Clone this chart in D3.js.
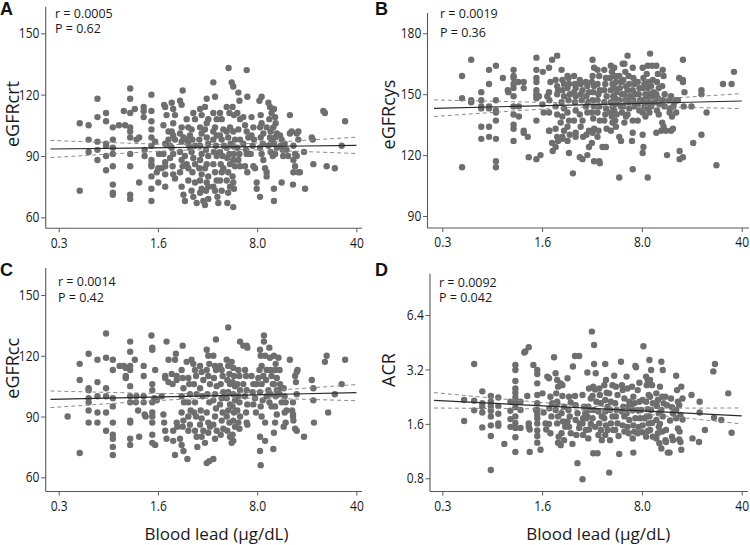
<!DOCTYPE html>
<html>
<head>
<meta charset="utf-8">
<script src="https://cdn.jsdelivr.net/npm/d3@7"></script>
<style>
    body { margin: 0; background: #fff; }
    svg { display: block; }
    .tick text { font-family: "Open Sans", sans-serif; font-size: 14.5px; fill: #1a1a1a; }
    .stat { font-family: "Open Sans", sans-serif; font-size: 12.5px; fill: #1a1a1a; }
    .ytitle { font-family: "Open Sans", sans-serif; font-size: 18px; fill: #1a1a1a; }
    .xtitle { font-family: "Open Sans", sans-serif; font-size: 17px; fill: #1a1a1a; }
    .letter { font-family: "Liberation Sans", Arial, sans-serif; font-size: 18px; font-weight: bold; fill: #111; }
</style>
</head>
<body>
<script>
"use strict";
(function(){

    // shared x axis (blood lead, log scale)
    const leadTicks = [0.32, 1.6, 8, 40]
    const leadTickLabels = ["0.3", "1.6", "8.0", "40"]

    const crtTicks = [60, 90, 120, 150]
    const cysTicks = [90, 120, 150, 180]
    const ccTicks = [60, 90, 120, 150]
    const acrTicks = [0.8, 1.6, 3.2, 6.4]

    // [blood lead, outcome]
    const pointsCrt = [
        [0.45,106],[0.45,73],[0.52,105],[0.52,98],[0.52,92],[0.6,118],[0.6,109],[0.6,97],[0.6,93],[0.6,88],
        [0.69,111],[0.69,107],[0.69,96],[0.69,95],[0.69,90],[0.69,83],
        [0.77,104],[0.77,98],[0.77,94],[0.77,91],[0.77,85],[0.77,76],[0.77,72],[0.77,71],
        [0.85,105],[0.92,112],[0.94,105],
        [1.02,123],[1.02,118],[1.02,111],[1.02,104],[1.02,102],[1.02,99],[1.02,91],[1.02,85],[1.02,71],[1.02,69],
        [1.1,113],[1.13,98],[1.18,99],[1.18,77],[1.27,114],[1.27,112],[1.27,109],[1.29,93],[1.29,90],
        [1.44,120],[1.44,112],[1.44,107],[1.44,103],[1.44,99],[1.44,95],[1.44,88],[1.44,86],[1.44,85],[1.44,80],[1.44,74],[1.44,68],
        [1.53,97],[1.57,82],[1.61,84],[1.61,77],[1.63,91],[1.7,84],[1.75,91],
        [1.77,115],[1.8,114],[1.75,105],[1.84,110],[1.9,102],[1.9,98],[1.8,96],[1.95,95],[1.95,89],[1.8,87],[1.8,85],[1.8,81],[1.8,75],
        [2.0,116],[2.05,113],[2.11,110],[2.05,106],[2.0,102],[2.05,100],[2.11,98],[2.0,94],[2.05,91],[2.03,85],[2.05,81],[2.11,79],
        [2.29,117],[2.35,115],[2.39,122],[2.35,104],[2.29,101],[2.42,99],[2.35,97],[2.29,92],[2.35,88],[2.39,85],[2.29,82],[2.35,75],[2.42,71],
        [2.55,108],[2.62,104],[2.69,100],[2.55,98],[2.62,96],[2.69,94],[2.48,90],[2.55,86],[2.62,84],[2.62,78],[2.48,68],
        [2.84,111],[2.92,108],[2.76,103],[2.8,98],[2.92,95],[2.76,92],[2.84,89],[2.92,86],[2.8,82],[2.92,77],[2.76,73],[2.84,70],[3.0,67],
        [3.17,113],[3.25,110],[3.17,104],[3.25,101],[3.13,98],[3.17,95],[3.25,91],[3.17,88],[3.13,84],[3.25,81],[3.17,78],[3.25,74],[3.17,72],[3.34,68],
        [3.53,118],[3.43,114],[3.62,108],[3.53,106],[3.43,103],[3.53,99],[3.62,96],[3.49,93],[3.62,90],[3.53,86],[3.43,84],[3.62,80],[3.53,77],[3.62,75],[3.49,73],[3.62,69],[3.43,66],
        [3.93,126],[4.04,119],[3.93,111],[4.15,108],[4.04,104],[3.93,102],[4.15,100],[3.93,98],[4.1,95],[3.97,92],[4.15,90],[3.93,86],[4.04,82],[4.15,78],[3.93,75],[4.04,73],[4.2,70],
        [4.38,111],[4.5,108],[4.62,103],[4.38,100],[4.5,98],[4.67,95],[4.38,92],[4.57,90],[4.43,86],[4.62,84],[4.5,82],[4.38,78],[4.5,73],[4.26,67],
        [5.03,133],[4.88,114],[5.1,111],[5.15,104],[4.88,102],[5.0,99],[5.2,96],[4.88,94],[5.1,91],[4.93,89],[5.15,86],[5.0,82],[4.88,78],[5.15,75],[5.0,72],[4.93,67],
        [5.29,126],[5.43,124],[5.37,114],[5.49,110],[5.43,102],[5.59,98],[5.37,95],[5.49,91],[5.43,88],[5.59,85],[5.37,80],[5.43,77],[5.49,74],[5.43,65],
        [5.9,121],[6.0,117],[5.8,111],[6.06,108],[5.9,103],[6.06,98],[5.8,94],[6.0,91],[5.9,88],[6.06,85],
        [6.75,132],[6.82,119],[6.39,109],[6.57,105],[6.75,102],[6.93,99],[6.39,96],[6.68,93],[6.75,91],[6.57,85],[6.82,82],
        [7.3,109],[7.52,104],[7.3,100],[7.6,98],[7.44,95],[7.2,91],[7.52,85],[7.73,84],[7.94,77],[7.94,74],[8.38,70],
        [8.3,117],[8.6,119],[8.47,110],[8.6,106],[8.38,104],[8.84,101],[8.47,99],[8.75,96],[8.38,94],[8.6,91],[8.84,88],[9.1,84],[9.33,82],[9.33,80],
        [9.6,116],[9.85,114],[10.1,111],[9.75,108],[9.33,104],[9.95,102],[9.85,99],[10.1,97],[9.6,95],[9.95,92],[10.3,90],
        [10.5,113],[10.7,109],[10.8,106],[10.4,104],[11.0,101],[10.7,99],[10.5,96],[11.0,94],[10.7,91],[10.5,74],[10.5,68],
        [11.6,100],[11.9,98],[11.7,95],[12.1,93],[12.2,90],[11.9,77],[12.5,96],[12.9,93],[13.2,90],[13.6,101],[13.6,110],[14.0,102],
        [14.4,95],[14.8,91],[14.4,88],[14.8,85],[14.4,82],[14.3,76],[15.2,101],[15.6,102],[15.6,98],[15.2,90],[15.6,82],[16.0,82],
        [17.1,92],[17.4,74],[19.4,99],[19.7,98],[19.9,86],[23.4,112],[24.0,111],[24.7,85],[28.2,84],[31.5,95],[33.3,107]
    ]

    const pointsCys = [
        [0.44,159],[0.44,148],[0.44,114],[0.51,167],[0.51,147],[0.51,146],
        [0.6,151],[0.6,147],[0.6,144],[0.6,143],[0.6,134],[0.6,128],
        [0.68,162],[0.68,155],[0.68,144],[0.68,143],[0.68,134],[0.68,129],
        [0.76,164],[0.76,147],[0.76,142],[0.76,141],[0.76,137],[0.76,128],[0.76,117],[0.76,114],
        [0.85,158],[0.92,152],[0.93,151],
        [1.01,162],[1.01,159],[1.01,158],[1.01,155],[1.01,153],[1.01,149],[1.01,144],[1.01,140],[1.01,135],[1.01,133],[1.01,127],
        [1.09,156],[1.1,144],[1.1,139],[1.19,156],[1.19,153],[1.19,132],[1.19,131],[1.27,129],[1.29,119],
        [1.46,168],[1.46,162],[1.46,158],[1.46,156],[1.46,152],[1.46,150],[1.46,149],[1.46,148],[1.46,137],[1.46,118],
        [1.52,149],[1.56,120],[1.62,161],[1.61,145],[1.64,141],[1.74,149],
        [1.79,163],[1.83,156],[1.79,151],[1.8,147],[1.79,141],[1.79,132],[1.8,132],[1.88,126],[1.9,122],
        [1.88,167],[2.04,169],[1.99,157],[2.04,154],[2.07,152],[2.04,150],[1.99,144],[2.04,140],[1.99,133],[2.04,129],[2.07,127],[1.99,124],
        [2.19,162],[2.22,157],[2.28,155],[2.22,152],[2.28,149],[2.19,146],[2.28,143],[2.22,139],[2.16,136],[2.28,132],[2.22,129],[2.22,128],
        [2.41,159],[2.45,158],[2.47,155],[2.41,153],[2.5,150],[2.45,147],[2.41,141],[2.47,137],[2.41,134],[2.5,130],[2.41,127],[2.47,121],
        [2.68,159],[2.72,155],[2.75,153],[2.68,151],[2.75,149],[2.72,146],[2.75,142],[2.68,137],[2.75,129],[2.63,111],[2.75,131],
        [2.94,157],[2.98,155],[3.07,152],[2.98,150],[3.03,147],[2.94,140],[3.07,137],[2.98,134],[3.1,129],[2.94,119],[3.07,118],
        [3.24,156],[3.32,154],[3.41,151],[3.27,149],[3.37,146],[3.24,144],[3.32,141],[3.41,132],[3.27,130],[3.41,124],[3.32,120],
        [3.61,167],[3.7,163],[3.61,159],[3.57,156],[3.7,154],[3.65,151],[3.61,147],[3.7,144],[3.57,141],[3.65,138],[3.7,133],[3.61,131],[3.57,126],[3.7,117],
        [3.91,162],[4.02,159],[3.91,155],[4.06,152],[3.97,150],[3.91,147],[4.02,144],[3.91,141],[4.06,137],[3.97,132],[3.91,129],[4.02,117],[4.06,116],
        [4.36,162],[4.48,158],[4.43,155],[4.36,152],[4.53,149],[4.36,146],[4.48,143],[4.43,140],[4.36,137],[4.53,133],[4.24,124],[4.48,124],
        [4.85,164],[4.93,161],[4.78,158],[4.98,155],[4.85,152],[5.04,149],[4.85,146],[4.98,144],[4.78,141],[4.93,139],[4.98,136],[4.85,132],
        [5.12,163],[5.2,159],[5.26,156],[5.15,153],[5.32,151],[5.2,148],[5.26,145],[5.12,142],[5.32,140],[5.2,137],[5.26,134],
        [5.55,159],[5.71,156],[5.61,153],[5.8,150],[5.55,147],[5.71,144],[5.8,141],[5.55,129],[5.71,127],[5.55,109],
        [6.03,165],[6.12,161],[5.93,157],[6.19,154],[6.03,150],[6.12,147],[5.93,144],[6.19,139],[6.03,136],[5.87,165],
        [6.35,169],[6.46,159],[6.53,155],[6.35,152],[6.6,149],[6.46,146],[6.53,143],[6.35,140],
        [6.9,163],[6.97,158],[7.08,155],[6.9,152],[7.2,150],[6.97,147],[7.08,144],[6.9,137],[6.82,127],[6.9,131],[6.9,113],
        [7.48,156],[7.68,153],[7.6,150],[7.77,147],[7.48,145],[7.68,142],[7.48,137],
        [8.1,163],[8.2,158],[8.33,155],[8.1,153],[8.47,150],[8.2,147],[8.33,144],[8.1,141],[8.47,139],[8.1,130],[8.2,124],[8.1,121],
        [8.79,164],[8.65,160],[8.93,156],[8.79,153],[9.03,150],[8.65,148],[8.93,146],[8.79,143],[9.03,141],[8.79,109],
        [9.13,170],[9.43,164],[9.54,157],[9.28,154],[9.64,151],[9.43,149],[9.8,146],[9.28,144],
        [10.1,164],[10.35,160],[10.2,156],[10.5,153],[10.1,150],[10.35,148],[10.6,145],[10.2,142],[10.5,140],[10.1,131],
        [11.2,162],[11.35,159],[11.1,154],[11.55,150],[11.2,147],[11.55,144],[11.1,136],[11.35,134],[10.95,132],
        [11.8,132],[12.0,120],[12.35,147],[12.5,141],[12.8,149],[12.6,143],[13.0,139],[13.2,133],[12.8,132],
        [13.8,147],[13.5,146],[13.3,144],[13.9,141],[14.3,147],[14.6,158],[14.7,122],[14.7,118],
        [15.5,167],[15.5,157],[15.5,156],[15.7,144],[15.9,151],[15.5,119],
        [17.8,144],[18.3,126],[20.9,152],[20.9,150],[20.9,130],[22.7,141],[29.6,155],[26.6,115],[34,155],[35.3,161]
    ]

    const pointsCc = [
        [0.37,90],[0.45,116],[0.45,108],[0.45,72],
        [0.52,121],[0.52,104],[0.52,103],[0.52,99],[0.52,97],[0.52,93],[0.52,87],
        [0.6,118],[0.6,107],[0.6,100],[0.6,92],[0.6,87],
        [0.69,131],[0.69,119],[0.69,104],[0.69,100],[0.69,92],[0.69,83],
        [0.77,118],[0.77,113],[0.77,99],[0.77,95],[0.77,87],[0.77,81],[0.77,79],[0.77,75],[0.77,71],
        [0.86,115],[0.92,115],[0.95,114],[0.95,110],[0.95,109],
        [1.02,127],[1.02,122],[1.02,115],[1.02,113],[1.02,105],[1.02,100],[1.02,97],[1.02,88],[1.02,87],[1.02,79],[1.02,76],
        [1.1,118],[1.13,100],[1.12,97],[1.16,93],[1.18,80],[1.27,115],[1.27,110],[1.27,100],[1.27,97],[1.29,91],[1.31,90],
        [1.44,130],[1.46,124],[1.46,123],[1.46,106],[1.46,103],[1.46,97],[1.46,92],[1.46,90],[1.46,87],[1.46,81],[1.46,77],
        [1.53,76],[1.53,113],[1.51,99],[1.57,98],
        [1.7,100],[1.75,91],[1.77,87],[1.8,110],[1.8,109],[1.84,127],[1.9,118],[1.9,107],[1.8,83],[1.84,79],
        [2.0,111],[2.03,106],[2.05,83],[2.05,78],[2.11,71],[2.11,118],[2.14,121],[2.17,110],[2.17,108],[2.17,87],[2.19,85],
        [2.35,113],[2.39,109],[2.42,104],[2.35,100],[2.44,97],[2.35,92],[2.42,88],[2.39,85],[2.29,79],[2.35,76],[2.42,73],[2.39,125],
        [2.62,109],[2.66,106],[2.69,101],[2.62,97],[2.72,93],[2.62,90],[2.69,86],[2.62,83],[2.58,69],[2.55,117],[2.76,118],
        [2.84,116],[2.92,113],[2.97,110],[2.87,106],[3.0,101],[2.92,97],[2.87,92],[2.97,90],[2.92,83],[3.0,80],[3.03,75],
        [3.17,115],[3.25,112],[3.34,108],[3.17,104],[3.3,100],[3.2,93],[3.25,89],[3.17,86],[3.34,83],[3.25,80],[3.43,77],
        [3.53,123],[3.62,120],[3.68,116],[3.53,113],[3.62,110],[3.72,106],[3.57,101],[3.68,97],[3.53,92],[3.62,87],[3.72,85],[3.62,82],[3.68,68],[3.53,67],
        [3.93,120],[4.04,115],[4.1,113],[3.97,109],[4.15,105],[4.04,101],[3.93,98],[4.1,94],[4.04,90],[3.93,86],[4.15,83],[4.04,79],[4.1,128],[3.93,69],
        [4.38,115],[4.5,113],[4.57,110],[4.43,106],[4.62,102],[4.5,99],[4.38,96],[4.57,92],[4.5,88],[4.62,84],[4.43,81],
        [4.88,118],[5.0,115],[5.1,111],[4.93,108],[5.15,106],[5.0,102],[4.88,99],[5.15,96],[5.0,93],[4.88,90],[5.1,87],[4.93,83],[5.15,80],[5.0,134],
        [5.29,117],[5.43,114],[5.49,110],[5.37,107],[5.59,105],[5.43,101],[5.59,98],[5.37,95],[5.49,92],[5.43,88],[5.59,85],[5.37,81],[5.43,78],[5.29,77],
        [5.9,113],[6.0,110],[5.8,106],[6.06,103],[5.9,100],[6.0,97],[5.8,93],[6.06,90],[5.9,87],[6.0,84],
        [6.06,127],[6.39,125],[6.57,113],[6.68,110],[6.39,106],[6.75,103],[6.57,100],[6.82,96],[6.68,92],[6.75,87],[6.82,86],[6.75,125],[6.82,124],
        [7.3,110],[7.52,106],[7.44,102],[7.73,99],[7.52,96],[7.85,92],[7.94,106],[8.15,109],
        [8.38,123],[8.47,120],[8.6,115],[8.3,113],[8.84,110],[8.6,106],[8.38,102],[8.75,98],[8.47,95],[8.6,90],[8.38,73],[8.47,66],[8.38,80],
        [8.93,130],[8.93,127],[9.1,120],[9.33,113],[9.23,108],[9.6,103],[9.33,100],[9.1,87],[9.1,78],
        [9.75,124],[9.85,119],[9.95,113],[10.1,110],[10.3,106],[9.95,101],[9.75,97],[10.1,95],[10.4,74],
        [10.5,120],[10.8,116],[10.7,113],[11.0,109],[10.5,106],[11.0,103],[10.8,100],[10.7,95],[11.0,91],[10.7,87],[10.5,82],
        [11.3,119],[11.5,113],[11.6,106],[11.7,104],[11.5,101],[11.9,97],
        [12.3,104],[12.5,100],[12.7,97],[12.9,93],[12.5,92],[12.7,87],[12.3,85],
        [13.6,118],[14.3,97],[14.1,93],[14.3,91],[14.3,90],[14.4,88],
        [14.8,110],[15.2,112],[15.4,113],[15.0,107],[15.2,101],[14.8,84],[15.2,83],
        [17.1,80],[19.4,108],[19.9,104],[19.9,98],[20.1,87],[24.0,117],[24.7,120],[25.3,92],[28.2,101],[31.5,106],[33.3,118]
    ]

    const pointsAcr = [
        [0.455,2.17],[0.455,1.66],[0.535,3.43],[0.535,2.15],[0.535,1.9],
        [0.61,2.42],[0.61,2.08],[0.61,1.99],[0.61,1.85],[0.61,1.53],
        [0.7,2.28],[0.7,2.12],[0.7,2.01],[0.7,1.89],[0.7,1.76],[0.7,1.57],[0.7,1.37],[0.7,0.89],
        [0.79,2.24],[0.79,2.01],[0.79,1.82],[0.79,1.61],[0.79,1.56],
        [0.87,1.24],[0.96,2.12],[0.96,1.89],[0.96,1.7],[0.96,1.54],
        [1.04,3.39],[1.04,3.18],[1.04,2.76],[1.04,2.51],[1.04,2.38],[1.04,2.24],[1.04,2.1],[1.04,1.98],[1.04,1.76],[1.04,1.62],[1.04,1.52],[1.04,1.35],[1.04,1.12],
        [1.13,2.12],[1.13,1.91],[1.13,1.52],
        [1.2,3.97],[1.22,4.02],[1.29,4.25],[1.26,2.28],[1.29,1.61],[1.31,1.49],[1.31,1.12],[1.29,1.54],
        [1.39,3.39],[1.45,1.91],
        [1.48,3.18],[1.48,3.02],[1.48,2.31],[1.48,2.08],[1.48,1.91],[1.48,1.8],[1.48,1.72],[1.48,1.61],[1.48,1.47],[1.48,1.37],[1.48,1.26],[1.48,2.68],
        [1.56,1.15],[1.61,2.36],[1.64,1.85],[1.69,1.61],[1.71,1.49],
        [1.74,2.92],[1.79,2.86],[1.83,2.26],[1.8,1.95],[1.86,1.76],[1.79,1.6],[1.83,1.42],[1.88,2.08],
        [1.94,3.74],[1.99,3.05],[2.04,2.8],[2.07,2.57],[2.01,2.36],[2.04,2.12],[1.99,1.91],[2.07,1.76],[2.04,1.61],[2.09,1.36],[2.07,1.26],[2.04,2.08],
        [2.16,2.68],[2.22,2.28],[2.28,1.99],[2.19,1.83],[2.24,1.65],[2.32,1.54],[2.19,1.42],[2.28,1.3],[2.16,1.22],[2.22,2.62],
        [2.41,2.86],[2.47,2.26],[2.54,2.1],[2.45,1.91],[2.5,1.76],[2.41,1.65],[2.47,1.54],[2.54,1.42],[2.61,1.24],
        [2.63,3.32],[2.72,3.8],[2.91,3.8],[2.75,2.03],[2.83,1.83],[2.75,1.68],[2.91,1.52],[2.78,1.39],[2.83,0.97],[2.72,2.28],[2.94,1.61],
        [3.07,2.31],[3.15,1.99],[3.21,1.83],[3.1,1.72],[3.07,1.61],[3.24,1.48],[3.1,1.39],[3.07,0.79],
        [3.32,3.08],[3.41,2.51],[3.51,2.21],[3.37,1.99],[3.45,1.91],[3.32,1.76],[3.51,1.6],[3.41,1.49],[3.37,1.33],[3.27,1.72],
        [3.57,5.18],[3.7,4.37],[3.7,3.43],[3.8,3.05],[3.65,2.57],[3.76,2.48],[3.61,2.28],[3.84,2.12],[3.7,1.91],[3.61,1.72],[3.76,1.54],[3.65,1.1],[3.91,1.1],
        [4.02,2.51],[4.06,2.31],[4.13,2.08],[3.97,1.87],[4.19,1.76],[4.02,1.61],[4.13,1.48],[3.97,1.39],[4.19,1.3],
        [4.43,3.43],[4.48,2.8],[4.36,2.62],[4.53,2.38],[4.43,2.17],[4.6,1.99],[4.43,1.87],[4.36,1.72],[4.48,1.57],[4.6,1.48],[4.43,1.39],
        [4.72,2.36],[4.85,2.12],[4.98,2.62],[4.78,1.91],[4.98,1.76],[4.85,1.61],[5.04,1.48],[4.78,1.3],[4.72,0.86],
        [5.12,2.95],[5.26,2.57],[5.4,2.31],[5.2,2.08],[5.32,1.91],[5.26,1.76],[5.4,1.61],[5.2,1.48],[5.49,1.37],[5.55,1.09],
        [5.71,3.53],[5.8,2.62],[5.87,2.46],[6.03,2.21],[5.93,1.99],[5.8,1.87],[6.03,1.76],[5.87,1.57],[6.03,1.45],
        [6.25,2.92],[6.35,2.51],[6.53,2.12],[6.46,1.99],[6.25,1.83],[6.53,1.68],[6.35,1.54],[6.46,1.42],
        [6.82,2.57],[6.97,2.26],[7.08,2.08],[6.9,1.91],[7.2,1.72],[6.97,1.57],[7.08,1.45],[6.9,1.33],[6.71,2.03],[6.97,1.11],
        [7.2,3.35],[7.28,3.29],[7.48,2.46],[7.68,2.12],[7.48,1.91],[7.77,1.72],[7.6,1.54],[7.48,1.42],[7.68,2.7],
        [7.9,1.91],[8.1,2.17],[8.33,1.72],[8.1,1.57],[8.03,1.44],[8.2,4.3],
        [8.56,2.92],[8.79,2.8],[8.65,2.62],[8.93,2.31],[8.56,2.12],[8.79,1.93],[8.65,1.76],[8.93,1.61],[8.79,1.46],[8.56,1.36],
        [9.03,3.61],[9.28,3.18],[9.13,2.8],[9.43,2.62],[9.13,2.26],[9.54,2.08],[9.28,1.91],[9.03,1.76],[9.43,1.62],[9.13,1.48],[9.54,1.36],
        [10.1,2.36],[10.35,2.17],[10.2,2.01],[10.5,1.83],[10.1,1.68],[10.5,1.54],[10.35,1.42],[10.1,1.33],[10.6,1.25],
        [10.95,3.53],[11.2,3.18],[10.7,2.57],[11.1,2.26],[11.35,2.08],[10.95,1.91],[11.2,1.76],[10.7,1.6],[11.1,1.45],[10.95,1.17],
        [11.7,2.26],[12.0,2.03],[11.8,1.48],[11.7,1.3],[12.15,1.11],[12.5,1.11],[11.8,1.27],
        [12.8,2.21],[13.0,1.98],[13.2,1.83],[12.6,1.67],[13.0,1.36],[13.2,1.3],
        [13.9,2.95],[14.1,2.46],[14.3,2.12],[14.6,2.03],[13.9,1.91],[14.3,1.51],[14.7,1.45],[14.6,1.31],[14.9,1.27],[13.9,1.72],[15.1,1.15],
        [15.1,2.57],[15.4,2.21],[14.9,1.79],[15.4,1.69],
        [17.8,2.31],[18.1,1.33],[20.1,1.27],[20.3,2.12],[20.3,1.85],[22.1,1.48],[25.3,3.12],[26.0,3.43],[25.6,1.73],[28.8,1.68],[32.2,2.36],[34,1.43]
    ]

    // fitted line and 95% band, read at these lead values
    const fitLead = [0.28, 1, 3.6, 12, 40]
    const fitCrt = [93.4, 93.86, 94.33, 94.76, 95.2]
    const lowCrt = [89.2, 91.48, 93.11, 92.53, 91.2]
    const highCrt = [97.6, 96.24, 95.55, 96.99, 99.2]
    const fitCys = [143.05, 143.97, 144.9, 145.78, 146.65]
    const lowCys = [139.0, 141.7, 143.8, 143.7, 142.9]
    const highCys = [147.2, 146.3, 146.0, 147.9, 150.3]
    const fitCc = [98.5, 99.34, 100.19, 100.99, 101.8]
    const lowCc = [94.4, 96.99, 98.99, 98.79, 97.8]
    const highCc = [102.6, 101.69, 101.39, 103.19, 105.8]
    const fitAcr = [2.16, 2.053, 1.95, 1.858, 1.77]
    const lowAcr = [1.957, 1.942, 1.896, 1.764, 1.599]
    const highAcr = [2.383, 2.17, 2.005, 1.957, 1.96]

    const measurements = { width: 750, height: 545 }

    const svg = d3.select("body").append("svg")
        .attr("width", measurements.width)
        .attr("height", measurements.height)

    const panels = [
        {
            letter: "A", title: "eGFRcrt", r: "r = 0.0005", p: "P = 0.62",
            points: pointsCrt, fit: fitCrt, low: lowCrt, high: highCrt, yTicks: crtTicks, log: false,
            axisX: 45.7, axisY: 228.3, top: 6.7, right: 362, xRange: [58.7, 356.4], yRange: [217.3, 33.3],
            letterPos: [0, 15], statX: 55, statY: [17.5, 33.3], titlePos: [18.5, 114], xTitleX: null
        },
        {
            letter: "B", title: "eGFRcys", r: "r = 0.0019", p: "P = 0.36",
            points: pointsCys, fit: fitCys, low: lowCys, high: highCys, yTicks: cysTicks, log: false,
            axisX: 427.5, axisY: 228, top: 13, right: 749, xRange: [442.3, 741.7], yRange: [216, 33.3],
            letterPos: [375, 15], statX: 440, statY: [18, 37], titlePos: [395, 114.5], xTitleX: null
        },
        {
            letter: "C", title: "eGFRcc", r: "r = 0.0014", p: "P = 0.42",
            points: pointsCc, fit: fitCc, low: lowCc, high: highCc, yTicks: ccTicks, log: false,
            axisX: 45.7, axisY: 491.5, top: 268, right: 362, xRange: [58.7, 356.4], yRange: [477.3, 295],
            letterPos: [0, 276], statX: 58, statY: [286, 301.7], titlePos: [18.5, 368.3], xTitleX: 216.5
        },
        {
            letter: "D", title: "ACR", r: "r = 0.0092", p: "P = 0.042",
            points: pointsAcr, fit: fitAcr, low: lowAcr, high: highAcr, yTicks: acrTicks, log: true,
            axisX: 430, axisY: 491.5, top: 273.7, right: 748, xRange: [442.3, 741.7], yRange: [478.3, 315],
            letterPos: [375, 276], statX: 439, statY: [286.7, 302.3], titlePos: [395, 370], xTitleX: 598.3
        }
    ]

    panels.forEach(drawPanel)

    // the original tick font is narrow: squeeze the glyphs horizontally
    function squeeze(sel) {
        sel.selectAll(".tick text").attr("transform", "scale(0.83,1)")
    }

    function drawPanel(p) {
        const g = svg.append("g")

        const scaleX = d3.scaleLog()
            .domain([leadTicks[0], leadTicks[leadTicks.length - 1]])
            .range(p.xRange)

        const scaleY = (p.log ? d3.scaleLog().base(2) : d3.scaleLinear())
            .domain([p.yTicks[0], p.yTicks[p.yTicks.length - 1]])
            .range(p.yRange)

        // points
        g.selectAll(".dot")
            .data(p.points)
            .enter()
            .append("circle")
                .attr("class", "dot")
                .attr("cx", (d) => scaleX(d[0]))
                .attr("cy", (d) => scaleY(d[1]))
                .attr("r", 3.2)
                .attr("fill", "#6e6e6e")

        // regression line + confidence band
        const zip = (arr) => fitLead.map((v, i) => [v, arr[i]])
        const curve = d3.line()
            .x((d) => scaleX(d[0]))
            .y((d) => scaleY(d[1]))
            .curve(d3.curveNatural)
        const straight = d3.line()
            .x((d) => scaleX(d[0]))
            .y((d) => scaleY(d[1]))

        ;[p.low, p.high].forEach(function(band) {
            g.append("path")
                .attr("d", curve(zip(band)))
                .attr("fill", "none")
                .attr("stroke", "#8c8c8c")
                .attr("stroke-width", 1)
                .attr("stroke-dasharray", "4,3")
        })
        g.append("path")
            .attr("d", straight(zip(p.fit)))
            .attr("fill", "none")
            .attr("stroke", "#2a2a2a")
            .attr("stroke-width", 1.2)

        // axes
        const xAxis = d3.axisBottom(scaleX)
            .tickValues(leadTicks)
            .tickFormat((d, i) => leadTickLabels[i])
            .tickSize(4)
            .tickPadding(5.2)
            .tickSizeOuter(0)
        const gx = g.append("g")
            .attr("transform", "translate(0," + p.axisY + ")")
            .attr("color", "#5a5a5a")
            .call(xAxis)
        gx.select(".domain").remove()
        squeeze(gx)

        const yAxis = d3.axisLeft(scaleY)
            .tickValues(p.yTicks)
            .tickFormat(p.log ? d3.format(".1f") : d3.format("d"))
            .tickSize(4.5)
            .tickPadding(3)
            .tickSizeOuter(0)
        const gy = g.append("g")
            .attr("transform", "translate(" + p.axisX + ",0)")
            .attr("color", "#5a5a5a")
            .call(yAxis)
        gy.select(".domain").remove()
        squeeze(gy)

        g.append("line")
            .attr("x1", p.axisX).attr("x2", p.right)
            .attr("y1", p.axisY).attr("y2", p.axisY)
            .attr("stroke", "#5a5a5a")
            .attr("stroke-width", 1.1)
        g.append("line")
            .attr("x1", p.axisX).attr("x2", p.axisX)
            .attr("y1", p.top).attr("y2", p.axisY)
            .attr("stroke", "#5a5a5a")
            .attr("stroke-width", 1.1)

        // texts
        g.append("text")
            .attr("class", "letter")
            .attr("x", p.letterPos[0])
            .attr("y", p.letterPos[1])
            .text(p.letter)

        g.append("text")
            .attr("class", "stat")
            .attr("x", p.statX)
            .attr("y", p.statY[0])
            .text(p.r)
        g.append("text")
            .attr("class", "stat")
            .attr("x", p.statX)
            .attr("y", p.statY[1])
            .text(p.p)

        g.append("text")
            .attr("class", "ytitle")
            .attr("text-anchor", "middle")
            .attr("transform", "translate(" + p.titlePos[0] + "," + p.titlePos[1] + ")rotate(-90)")
            .text(p.title)

        if (p.xTitleX !== null) {
            g.append("text")
                .attr("class", "xtitle")
                .attr("text-anchor", "middle")
                .attr("x", p.xTitleX)
                .attr("y", 540)
                .text("Blood lead (μg/dL)")
        }
    }
})()
</script>
</body>
</html>
